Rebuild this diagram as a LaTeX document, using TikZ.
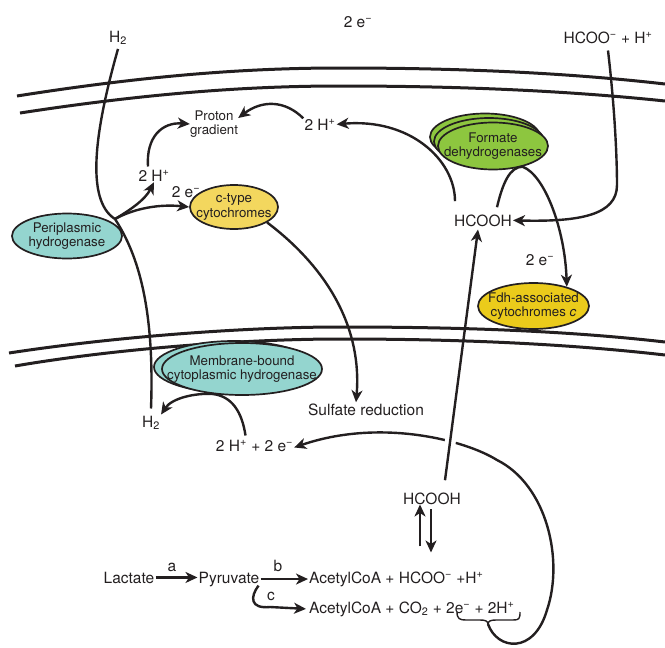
\documentclass[tikz,border=0pt]{standalone}
\usepackage{fontspec}
\setmainfont{TeX Gyre Heros}
\usetikzlibrary{arrows.meta,shapes.geometric}
\definecolor{ink}{HTML}{231F20}
\definecolor{cteal}{HTML}{94D5CF}
\definecolor{cyel}{HTML}{F3D75E}
\definecolor{cgreen}{HTML}{8DC63F}
\definecolor{cgold}{HTML}{EBCB1B}
\newcommand\myup[1]{\textsuperscript{#1}}
\newcommand\mydn[1]{\textsubscript{#1}}
\begin{document}
\begin{tikzpicture}[x=1pt,y=-1pt,
  lbl/.style={font=\fontsize{15.5}{18}\selectfont, text=ink, inner sep=1pt, anchor=base},
  sm/.style={font=\fontsize{13.3}{14.5}\selectfont, text=ink, align=center, inner sep=0pt},
  ell/.style={ellipse, draw=ink, line width=1.7pt, inner sep=0pt},
  conn/.style={draw=ink, line width=2.4pt},
  arr/.style={conn, -{Stealth[length=12pt,width=11pt,inset=3.5pt]}},
  bigarr/.style={draw=ink, line width=2.8pt, -{Stealth[length=12pt,width=11pt,inset=3.5pt]}},
  mem/.style={draw=ink, line width=3pt}]
\useasboundingbox (0,0) rectangle (665,648);

% membranes
\draw[mem] (17,96) .. controls (150,75) and (250,68) .. (340,68) .. controls (450,68) and (560,72) .. (665,84);
\draw[mem] (20,113) .. controls (150,93) and (250,86) .. (340,86) .. controls (450,86) and (560,90) .. (665,101);
\draw[mem] (9,353) .. controls (120,336) and (250,327) .. (340,327) .. controls (450,327) and (560,330) .. (665,342);
\draw[mem] (15,366) .. controls (120,348) and (250,339) .. (340,339) .. controls (450,339) and (560,343) .. (665,355);

% text labels
\node[lbl] (h2t) at (118,42) {H\mydn{2}};
\node[lbl] (e2t) at (358,27) {2 e\myup{−}};
\node[lbl] (hcoot) at (608,43) {HCOO\myup{−} + H\myup{+}};
\node[sm] (pg) at (214,124) {Proton\\gradient};
\node[lbl] (hpa) at (154,181) {2 H\myup{+}};
\node[lbl] (ea) at (186,197) {2 e\myup{−}};
\node[lbl] (hpb) at (320,130) {2 H\myup{+}};
\node[lbl] (hcu) at (483,226) {HCOOH};
\node[lbl] (eb) at (540,265) {2 e\myup{−}};
\node[lbl] (h2b) at (151,427) {H\mydn{2}};
\node[lbl] (sulf) at (366,415) {Sulfate reduction};
\node[lbl] (pe) at (254.5,451) {2 H\myup{+} + 2 e\myup{−}};
\node[lbl] (hcl) at (432,504) {HCOOH};
\node[lbl] (lac) at (129,583) {Lactate};
\node[lbl] (pyr) at (229,583) {Pyruvate};
\node[lbl, anchor=base west] (ac1) at (308,583) {AcetylCoA + HCOO\myup{−} +H\myup{+}};
\node[lbl, anchor=base west] (ac2) at (308,613) {AcetylCoA + CO\mydn{2} + 2e\myup{−} + 2H\myup{+}};
\node[lbl] (la) at (172,571) {a};
\node[lbl] (lb) at (278,571) {b};
\node[lbl] (lc) at (271,600) {c};

% ellipses
\node[ell, fill=cteal, minimum width=110pt, minimum height=45pt,
  label={[sm]center:Periplasmic\\hydrogenase}] (peri) at (67,236) {};
\node[ell, fill=cyel, minimum width=88pt, minimum height=44pt,
  label={[sm]center:c-type\\cytochromes}] (ctype) at (234,207) {};
\node[ell, fill=cgreen, minimum width=110pt, minimum height=47pt] (fdh3) at (485,137) {};
\node[ell, fill=cgreen, minimum width=110pt, minimum height=47pt] (fdh2) at (489,141.5) {};
\node[ell, fill=cgreen, minimum width=110pt, minimum height=47pt,
  label={[sm]center:Formate\\dehydrogenases}] (fdh) at (493,146) {};
\node[ell, fill=cgold, minimum width=111pt, minimum height=46pt,
  label={[sm]center:Fdh-associated\\cytochromes \textit{c}}] (fdhc) at (533.5,306) {};
\node[ell, fill=cteal, minimum width=160pt, minimum height=52pt] (mb2) at (234,367) {};
\node[ell, fill=cteal, minimum width=160pt, minimum height=52pt,
  label={[sm]center:Membrane-bound\\cytoplasmic hydrogenase}] (mb) at (242,369) {};

% periplasmic hydrogenase connections
\coordinate (J) at (115,219);
\draw[conn] ([yshift=-3pt]h2t.south) .. controls (95,130) and (85,200) .. (J);
\draw[conn] (J) .. controls (135,250) and (155,300) .. ([yshift=6pt]h2b.north);
\draw[arr] (J) .. controls (130,210) and (145,200) .. (hpa.south);
\draw[arr] (J) .. controls (135,208) and (160,204) .. (ctype.west);
\draw[arr] ([xshift=-6pt,yshift=2pt]hpa.north) .. controls (146,137) and (162,122) .. (pg.west);
\draw[arr] ([yshift=6pt]hpb.west) .. controls (285,100) and (262,100) .. ([yshift=6pt]pg.east);

% formate
\draw[arr] ([xshift=-28pt,yshift=12pt]hcu.north) .. controls (455,160) and (410,118) .. (hpb.east);
\draw[arr] ([xshift=14pt,yshift=6pt]hcu.north) .. controls (503,182) and (510,167) .. (fdh.-35)
  .. controls (545,175) and (565,230) .. (fdhc.30);
\draw[arr] ([yshift=-6pt]hcoot.south) .. controls (615,110) and (617,160) .. (617,185)
  .. controls (617,215) and (580,222) .. (hcu.east);

% c-type to sulfate
\draw[arr] (ctype.-25) .. controls (330,270) and (362,330) .. ([xshift=-10pt]sulf.north);

% membrane-bound hydrogenase
\draw[arr] ([xshift=-9pt,yshift=3pt]pe.north) .. controls (242,412) and (232,396) .. (mb.-140)
  .. controls (195,393) and (172,398) .. (h2b.north east);

% brace and loop
\coordinate (bt) at (488,624);
\draw[draw=ink, line width=1.4pt] (457,612) .. controls (457,619) and (460,620) .. (466,620) -- (480,620)
  .. controls (485,620) and (488,621) .. (bt) .. controls (488,621) and (491,620) .. (496,620) -- (513,620)
  .. controls (519,620) and (520,619) .. (520,612);
\draw[arr] (bt) .. controls (497,650) and (534,655) .. (547,610) .. controls (564,560) and (547,485) .. (497,460)
  .. controls (465,440) and (380,418) .. ([yshift=-2pt]pe.east);
\draw[white, line width=11pt] (452.5,425) -- (449.2,450);
\draw[arr] ([xshift=13pt,yshift=11pt]hcl.north) -- ([xshift=-5pt,yshift=-2pt]hcu.south);

% lower equilibrium arrows
\draw[bigarr] ([xshift=-12pt,yshift=-41pt]hcl.south) -- ([xshift=-12pt,yshift=1pt]hcl.south);
\draw[bigarr] ([xshift=-1pt,yshift=-4pt]hcl.south) -- ([xshift=-1pt,yshift=-47pt]hcl.south);

% metabolic arrows
\draw[bigarr] (lac.east) -- (lac.east -| pyr.west);
\draw[bigarr] (pyr.east) -- (pyr.east -| ac1.west);
\draw[arr] ([xshift=-2pt,yshift=2pt]pyr.south east) .. controls (250,597) and (250,609) .. (270,607) -- ([xshift=-2pt]ac2.west);
\end{tikzpicture}
\end{document}
